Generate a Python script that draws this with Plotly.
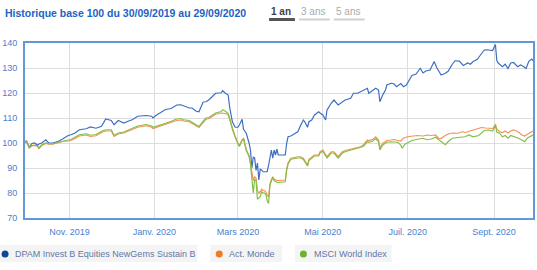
import pandas as pd
import plotly.graph_objects as go

START = "2019-09-30"
END = "2020-09-29"

# ---- data: day offsets since 30/09/2019 and base-100 values ----
days_common = [0, 1, 3, 5, 7, 9, 10, 12, 15, 17, 20, 24, 27, 31, 33, 36, 39, 44, 47, 51,
               55, 58, 62, 64, 67, 71, 74, 77, 81, 87, 91, 92, 94, 98, 101, 105, 109, 112, 114, 118,
               120, 123, 125, 128, 130, 132, 135, 137, 141, 142, 144, 146, 147, 149, 151, 153, 154, 156, 157, 159,
               161, 162, 163, 164, 165, 166, 167, 168, 169, 170, 171, 172, 173, 174, 175, 176, 177, 178, 179, 180,
               181, 182, 184, 187, 188, 189, 191, 194, 196, 198, 200, 201, 203, 204, 206, 208, 211, 212, 214, 216,
               217, 220, 222, 225, 228, 230, 234, 236, 239, 241, 243, 246, 247, 250, 252, 254, 255, 257, 259, 260,
               263]
fund_common = [100.0, 101.0, 98.4, 99.8, 100.0, 99.0, 99.6, 100.0, 101.3, 100.0, 100.0, 100.7, 101.6, 103.0, 103.3, 104.0, 105.3, 105.7, 106.4, 105.9,
               106.7, 109.6, 109.0, 107.3, 109.0, 108.0, 108.7, 109.3, 110.7, 111.0, 110.7, 110.0, 111.0, 112.5, 113.4, 113.8, 115.2, 115.3, 114.8, 114.0,
               114.0, 112.7, 112.5, 116.4, 116.5, 117.2, 118.8, 119.9, 120.1, 120.9, 119.9, 119.2, 114.5, 108.5, 106.3, 106.3, 107.2, 109.5, 105.5, 103.9,
               99.9, 97.2, 90.0, 94.3, 94.0, 89.0, 92.0, 85.2, 89.5, 89.2, 88.5, 88.5, 88.7, 88.5, 91.0, 94.5, 97.2, 93.9, 97.2, 95.2,
               97.5, 95.2, 95.2, 95.2, 99.9, 102.5, 102.8, 104.0, 104.5, 107.0, 109.2, 108.5, 106.3, 108.5, 109.2, 111.2, 112.5, 112.0, 111.2, 109.2,
               113.2, 115.9, 117.2, 115.2, 116.5, 117.2, 117.9, 119.9, 119.9, 120.5, 121.2, 121.9, 119.9, 121.2, 121.9, 121.2, 116.5, 119.2, 121.2, 123.2,
               123.9]
act_common = [100.0, 100.6, 98.0, 98.8, 99.0, 98.6, 97.8, 99.0, 99.8, 99.5, 99.5, 100.1, 100.6, 100.8, 101.0, 101.8, 102.8, 103.2, 102.6, 102.9,
              104.2, 104.8, 104.8, 102.6, 103.6, 104.0, 104.7, 105.2, 106.3, 106.9, 106.3, 105.8, 106.2, 106.8, 107.4, 108.2, 109.0, 109.2, 108.8, 108.5,
              107.8, 106.6, 106.2, 108.2, 109.5, 109.7, 110.8, 111.5, 112.0, 112.0, 111.8, 111.3, 109.5, 105.3, 102.6, 99.8, 99.0, 101.3, 102.0, 97.3,
              95.0, 92.0, 88.0, 85.0, 86.5, 86.0, 81.0, 80.0, 80.5, 81.5, 81.0, 81.0, 80.5, 79.0, 78.5, 83.5, 85.2, 86.5, 85.5, 85.2,
              85.0, 85.0, 85.0, 85.2, 89.5, 92.0, 93.9, 94.3, 94.5, 94.5, 93.9, 93.0, 91.2, 93.5, 94.5, 95.2, 95.2, 96.5, 97.2, 95.2,
              94.5, 96.5, 96.5, 94.5, 96.5, 97.0, 97.6, 97.9, 98.5, 98.5, 99.2, 101.2, 101.0, 101.5, 102.5, 101.2, 97.9, 99.9, 100.5, 101.0,
              101.2]
msci_common = [100.0, 100.8, 98.3, 99.0, 99.2, 98.8, 98.0, 99.3, 100.0, 99.7, 99.7, 100.3, 100.9, 101.2, 101.4, 102.3, 103.3, 103.7, 103.1, 103.4,
               104.7, 105.3, 105.3, 103.1, 104.0, 104.4, 105.1, 105.7, 106.8, 107.4, 106.8, 106.3, 106.6, 107.3, 107.9, 108.7, 109.6, 109.8, 109.3, 109.0,
               108.3, 107.0, 106.6, 108.7, 110.0, 110.2, 111.3, 112.0, 112.6, 113.3, 112.7, 111.8, 110.0, 105.5, 102.4, 99.5, 98.6, 101.0, 101.7, 97.0,
               94.6, 91.5, 84.0, 80.0, 85.5, 85.0, 77.5, 78.0, 78.5, 80.5, 80.0, 80.0, 79.5, 77.0, 75.8, 83.2, 85.0, 86.3, 85.0, 84.5,
               84.3, 84.2, 84.3, 84.5, 89.2, 91.6, 93.5, 93.9, 94.0, 94.0, 93.4, 92.5, 90.8, 93.0, 94.0, 94.8, 94.8, 96.0, 96.7, 94.7,
               94.0, 96.0, 96.0, 94.0, 96.0, 96.5, 97.1, 97.4, 98.0, 98.0, 98.6, 100.5, 100.3, 100.8, 101.8, 100.5, 97.2, 99.2, 99.8, 100.3,
               100.5]

fund_days_tail = [265, 267, 270, 272, 274, 276, 278, 281, 284, 286, 288, 291, 294, 296, 299, 302, 304, 307, 309, 312,
                  315, 318, 320, 322, 325, 327, 330, 332, 334, 336, 338, 339, 340, 343, 345, 347, 349, 351, 354, 356,
                  358, 360, 362, 364, 365]
fund_tail = [123.7, 122.5, 123.8, 122.5, 123.2, 125.2, 127.0, 127.6, 129.9, 128.0, 128.8, 129.2, 132.6, 130.0, 127.2, 127.9, 128.7, 131.5, 132.9, 132.8,
             131.0, 132.0, 131.5, 132.6, 133.5, 135.0, 137.2, 137.3, 137.0, 137.0, 139.4, 133.0, 132.0, 130.5, 131.5, 129.8, 132.0, 132.2, 130.5, 131.2,
             130.7, 129.8, 132.7, 133.6, 133.0]
act_days_tail = [265, 268, 270, 272, 275, 279, 282, 286, 289, 292, 295, 297, 299, 302, 305, 308, 311, 314, 317, 319,
                 322, 325, 328, 331, 334, 336, 338, 339, 341, 343, 345, 347, 349, 351, 353, 355, 357, 359, 361, 363,
                 365]
act_tail = [101.4, 101.0, 100.8, 102.0, 102.5, 102.8, 103.0, 102.8, 103.2, 103.0, 103.2, 102.0, 101.8, 103.0, 103.8, 104.0, 103.9, 104.5, 104.2, 104.7,
            105.3, 105.6, 106.2, 106.0, 106.0, 105.8, 107.5, 105.5, 104.5, 104.2, 104.8, 104.0, 104.8, 105.2, 104.8, 104.2, 103.2, 102.8, 103.5, 104.2,
            104.8]
msci_days_tail = [265, 268, 270, 271, 273, 275, 278, 282, 286, 289, 292, 295, 297, 299, 302, 304, 307, 311, 316, 319,
                  322, 326, 330, 333, 336, 338, 339, 341, 343, 345, 347, 349, 352, 355, 357, 359, 361, 363, 365]
msci_tail = [100.5, 100.3, 99.2, 97.9, 99.5, 100.0, 101.0, 101.5, 101.9, 101.3, 101.6, 102.3, 101.5, 100.5, 99.3, 100.5, 101.9, 102.2, 102.5, 103.2,
             102.5, 103.0, 105.0, 105.2, 104.8, 107.0, 104.3, 103.9, 102.5, 103.0, 101.9, 103.0, 102.5, 101.8, 101.2, 100.5, 102.0, 102.5, 103.2]

series_names = ["DPAM Invest B Equities NewGems Sustain B", "Act. Monde", "MSCI World Index"]
tick_dates = ["2019-11-01", "2020-01-01", "2020-03-01", "2020-05-01", "2020-07-01", "2020-09-01"]
tick_labels = ["Nov. 2019", "Janv. 2020", "Mars 2020", "Mai 2020", "Juil. 2020", "Sept. 2020"]
y_ticks = [70, 80, 90, 100, 110, 120, 130, 140]
title_text = "Historique base 100 du 30/09/2019 au 29/09/2020"
tabs = ["1 an", "3 ans", "5 ans"]

# ---- styling ----
line_colors = ["#3d6fc2", "#f4935a", "#84bf45"]
dot_colors = ["#0d469c", "#f47a22", "#6cb42c"]
tick_color = "#4a80d0"
frame_color = "#6397dc"
FONT = "Liberation Sans, Arial, sans-serif"

W, H = 537, 270
ML, MR, MT, MB = 25, 2, 43, 52
PW, PH = W - ML - MR, H - MT - MB


def px_x(px):
    return (px - ML) / PW


def px_y(py):
    return (H - MB - py) / PH


start = pd.Timestamp(START)


def to_dates(days):
    return [start + pd.Timedelta(days=d) for d in days]


fund_x = to_dates(days_common + fund_days_tail)
act_x = to_dates(days_common + act_days_tail)
msci_x = to_dates(days_common + msci_days_tail)

fig = go.Figure()
for name, xs, ys, col in [
    (series_names[0], fund_x, fund_common + fund_tail, line_colors[0]),
    (series_names[1], act_x, act_common + act_tail, line_colors[1]),
    (series_names[2], msci_x, msci_common + msci_tail, line_colors[2]),
]:
    fig.add_trace(go.Scatter(x=xs, y=ys, mode="lines", name=name, showlegend=False,
                             line=dict(color=col, width=1.2)))

annotations = [
    dict(text="<b>" + title_text + "</b>", x=px_x(3), y=px_y(13), xref="paper", yref="paper",
         xanchor="left", yanchor="middle", showarrow=False,
         font=dict(family=FONT, size=10.5, color="#1c63c4")),
]
shapes = []

# period tabs
tab_centers = [282, 314.5, 349.5]
tab_under = [(270, 296), (300, 331), (335, 366)]
for i, t in enumerate(tabs):
    active = i == 0
    annotations.append(dict(text=("<b>" + t + "</b>") if active else t, x=px_x(tab_centers[i]), y=px_y(11),
                            xref="paper", yref="paper", xanchor="center", yanchor="middle", showarrow=False,
                            font=dict(family=FONT, size=10, color="#444444" if active else "#aaaaaa")))
    x0, x1 = tab_under[i]
    shapes.append(dict(type="line", xref="paper", yref="paper", x0=px_x(x0), x1=px_x(x1),
                       y0=px_y(19.5), y1=px_y(19.5),
                       line=dict(color="#555555" if active else "#d0d0d0", width=3 if active else 2)))

# legend (boxes, dots, labels)
leg_boxes = [(0, 198), (211, 283), (296, 393)]
leg_dots = [5, 220, 304.5]
leg_text = [13, 228, 313]
for i, nm in enumerate(series_names):
    b0, b1 = leg_boxes[i]
    shapes.append(dict(type="rect", xref="paper", yref="paper", x0=px_x(b0), x1=px_x(b1),
                       y0=px_y(262), y1=px_y(245), fillcolor="#f4f4f4", line=dict(width=0), layer="below"))
    cx = leg_dots[i]
    shapes.append(dict(type="circle", xref="paper", yref="paper", x0=px_x(cx - 3.5), x1=px_x(cx + 3.5),
                       y0=px_y(257.5), y1=px_y(250.5), fillcolor=dot_colors[i], line=dict(width=0)))
    annotations.append(dict(text=nm, x=px_x(leg_text[i]), y=px_y(254), xref="paper", yref="paper",
                            xanchor="left", yanchor="middle", showarrow=False,
                            font=dict(family=FONT, size=9, color="#6278a6")))

fig.update_layout(
    width=W, height=H,
    margin=dict(l=ML, r=MR, t=MT, b=MB, pad=0),
    paper_bgcolor="white", plot_bgcolor="white",
    font=dict(family=FONT, size=9, color=tick_color),
    showlegend=False,
    annotations=annotations,
    shapes=shapes,
    xaxis=dict(range=[START, END], tickvals=tick_dates, ticktext=tick_labels,
               showgrid=True, gridcolor="#dddddd", gridwidth=1,
               showline=True, linecolor=frame_color, linewidth=2, mirror=True,
               ticks="outside", ticklen=4, tickcolor="rgba(0,0,0,0)", zeroline=False,
               tickfont=dict(family=FONT, size=9, color=tick_color)),
    yaxis=dict(range=[70, 140], tickvals=y_ticks,
               showgrid=True, gridcolor="#dddddd", gridwidth=1,
               showline=True, linecolor=frame_color, linewidth=2, mirror=True,
               ticks="outside", ticklen=4, tickcolor="rgba(0,0,0,0)", zeroline=False,
               tickfont=dict(family=FONT, size=9, color=tick_color)),
)

fig.write_html("out.html")
